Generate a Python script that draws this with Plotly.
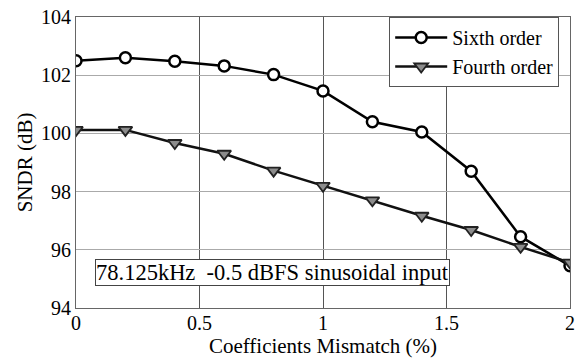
import plotly.graph_objects as go

# Coefficient mismatch sweep (%)
mismatch = [0, 0.2, 0.4, 0.6, 0.8, 1.0, 1.2, 1.4, 1.6, 1.8, 2.0]
# SNDR (dB) for each modulator order
sndr_sixth = [102.5, 102.6, 102.48, 102.32, 102.02, 101.46, 100.4, 100.05, 98.7, 96.45, 95.45]
sndr_fourth = [100.12, 100.12, 99.67, 99.3, 98.72, 98.2, 97.7, 97.17, 96.68, 96.1, 95.56]

x_ticks = [0, 0.5, 1, 1.5, 2]
x_tick_text = ["0", "0.5", "1", "1.5", "2"]
y_ticks = [94, 96, 98, 100, 102, 104]

FONT = "Liberation Serif"

fig = go.Figure()
fig.add_trace(go.Scatter(
    x=mismatch, y=sndr_sixth, name="Sixth order", mode="lines+markers",
    line=dict(color="black", width=2.5),
    marker=dict(symbol="circle", size=11, color="white", line=dict(color="black", width=2.5)),
))
fig.add_trace(go.Scatter(
    x=mismatch, y=sndr_fourth, name="Fourth order", mode="lines+markers",
    line=dict(color="#111", width=2.5),
    marker=dict(symbol="triangle-down", size=12, color="#8c8c8c",
                line=dict(color="#222", width=1.8)),
))

fig.add_annotation(
    x=0.077, y=95.23, xref="x", yref="y", xanchor="left", yanchor="middle",
    text="78.125kHz  -0.5 dBFS sinusoidal input", showarrow=False,
    font=dict(family=FONT, size=22.5, color="black"),
    bordercolor="#444", borderwidth=1, borderpad=0, bgcolor="white",
)

fig.update_layout(
    width=575, height=362,
    margin=dict(l=76, r=0, t=17, b=54),
    paper_bgcolor="white", plot_bgcolor="white",
    font=dict(family=FONT, size=20, color="black"),
    showlegend=True,
    legend=dict(
        x=0.634, y=1.0, xanchor="left", yanchor="top",
        bordercolor="#555", borderwidth=1, bgcolor="white",
        font=dict(family=FONT, size=20, color="black"),
        tracegroupgap=0, itemwidth=52,
    ),
    xaxis=dict(
        range=[0, 2], tickvals=x_ticks, ticktext=x_tick_text,
        showgrid=True, gridcolor="#555", gridwidth=1,
        showline=True, linecolor="#666", mirror=True, linewidth=1,
        ticks="", zeroline=False, ticklabeloverflow="allow",
        ticklabelstandoff=-3,
        title=dict(text="Coefficients Mismatch (%)", font=dict(family=FONT, size=21), standoff=0),
        tickfont=dict(family=FONT, size=20),
    ),
    yaxis=dict(
        range=[94, 104], tickvals=y_ticks,
        showgrid=True, gridcolor="#aaa", gridwidth=1,
        showline=True, linecolor="#666", mirror=True, linewidth=1,
        ticks="", zeroline=False,
        title=dict(text="SNDR (dB)", font=dict(family=FONT, size=21), standoff=2),
        tickfont=dict(family=FONT, size=20),
    ),
)

fig.write_html("out.html")
